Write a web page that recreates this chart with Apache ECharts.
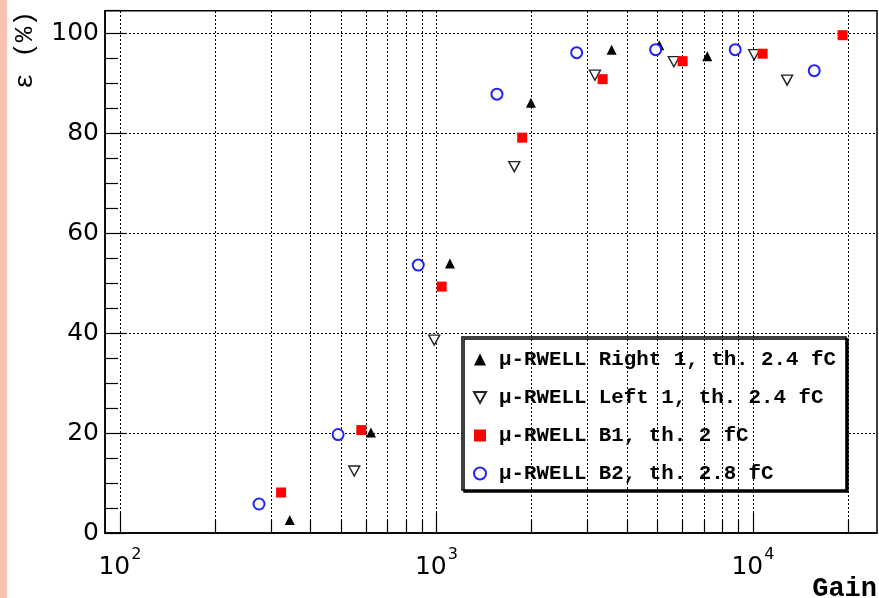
<!DOCTYPE html>
<html>
<head>
<meta charset="utf-8">
<script src="https://cdn.jsdelivr.net/npm/echarts@6/dist/echarts.min.js"></script>
<style>
  html, body { margin: 0; padding: 0; background: #fff; }
  #chart { width: 879px; height: 598px; }
</style>
</head>
<body>
<div id="chart"></div>
<script>
// gain values (x) and efficiency in % (y) for each detector
var right1Gain = [344, 621, 1103, 1989, 3577, 5058, 7172];
var right1Eff = [2.6, 20.1, 53.9, 86.1, 96.7, 97.6, 95.4];
var left1Gain = [550, 984, 1762, 3168, 5625, 10090, 12820];
var left1Eff = [12.4, 38.6, 73.3, 91.6, 94.3, 95.7, 90.6];
var b1Gain = [323, 579, 1039, 1866, 3350, 5995, 10730, 19200];
var b1Eff = [8.1, 20.6, 49.3, 79.1, 90.8, 94.4, 95.9, 99.6];
var b2Gain = [275, 489, 876, 1553, 2774, 4927, 8790, 15620];
var b2Eff = [5.8, 19.7, 53.6, 87.8, 96.1, 96.7, 96.7, 92.5];

var seriesNames = [
  'μ-RWELL Right 1, th. 2.4 fC',
  'μ-RWELL Left 1, th. 2.4 fC',
  'μ-RWELL B1, th. 2 fC',
  'μ-RWELL B2, th. 2.8 fC'
];

// axis ranges
var gainMin = 89.7, gainMax = 24660;
var effMin = 0, effMax = 104.5, effStep = 20;
var decades = [100, 1000, 10000];

function pairs(xs, ys) {
  return xs.map(function (x, i) { return [x, ys[i]]; });
}

// dotted vertical grid at 1..9 x 10^n, short ticks at the minor ones
var vGrid = [];
var minorTicks = [];
decades.forEach(function (d) {
  for (var k = 1; k <= 9; k++) {
    var v = k * d;
    if (v < gainMin || v > gainMax) continue;
    vGrid.push({ xAxis: v });
    if (k > 1) minorTicks.push([{ coord: [v, 0] }, { coord: [v, 2.6] }]);
  }
});

var chart = echarts.init(document.getElementById('chart'));

var option = {
  animation: false,
  backgroundColor: '#fff',
  graphic: [
    { type: 'rect', left: 0, top: 0, shape: { width: 7, height: 598 }, style: { fill: '#f9c2b1' } },
    {
      type: 'text', x: 25, y: 50, rotation: Math.PI / 2,
      style: {
        text: 'ε (%)', fontFamily: 'Liberation Mono', fontSize: 26,
        fill: '#000', align: 'center', verticalAlign: 'middle'
      }
    }
  ],
  grid: {
    left: 105, top: 10.7, right: 2, bottom: 65,
    outerBoundsMode: 'none',
    containLabel: false,
    show: true, borderColor: '#000', borderWidth: 1.5, backgroundColor: '#fff'
  },
  legend: {
    data: seriesNames,
    orient: 'vertical',
    left: 462, top: 337,
    padding: [12, 10, 6, 11],
    itemGap: 17,
    itemWidth: 12, itemHeight: 12,
    backgroundColor: '#fff',
    borderColor: '#000', borderWidth: 1.5,
    shadowColor: '#000', shadowOffsetX: 2, shadowOffsetY: 2, shadowBlur: 0,
    textStyle: {
      fontFamily: 'Liberation Mono', fontWeight: 'bold', fontSize: 20.8,
      lineHeight: 20, color: '#000', padding: [0, 0, 0, 8]
    }
  },
  xAxis: {
    type: 'log',
    logBase: 10,
    min: gainMin,
    max: gainMax,
    name: 'Gain',
    nameLocation: 'end',
    nameGap: 0,
    nameTextStyle: {
      fontFamily: 'Liberation Mono', fontWeight: 'bold', fontSize: 27, color: '#000',
      align: 'right', verticalAlign: 'top', padding: [43, 0, 0, 0]
    },
    axisLine: { lineStyle: { color: '#000', width: 1.5 } },
    axisTick: { inside: true, length: 20, lineStyle: { color: '#000', width: 1.2 } },
    splitLine: { show: false },
    axisLabel: {
      margin: 14,
      showMinLabel: false,
      showMaxLabel: false,
      formatter: function (v) {
        var e = Math.round(Math.log10(v));
        if (Math.abs(Math.log10(v) - e) > 1e-6) return '';
        return '{b|10}{s|' + e + '}';
      },
      rich: {
        b: { fontFamily: 'DejaVu Sans', fontSize: 25, color: '#000', verticalAlign: 'bottom' },
        s: { fontFamily: 'DejaVu Sans', fontSize: 16, color: '#000', verticalAlign: 'bottom', padding: [0, 0, 17, 1] }
      }
    }
  },
  yAxis: {
    type: 'value',
    min: effMin,
    max: effMax,
    interval: effStep,
    axisLine: { show: true, lineStyle: { color: '#000', width: 1.5 } },
    axisTick: { inside: true, length: 21, lineStyle: { color: '#000', width: 1.2 } },
    minorTick: { show: true, splitNumber: 4, length: 13, lineStyle: { color: '#000', width: 1.2 } },
    splitLine: { show: true, lineStyle: { color: '#000', width: 1, type: [2, 2] } },
    axisLabel: {
      margin: 6, showMaxLabel: false,
      fontFamily: 'DejaVu Sans', fontSize: 25, color: '#000'
    }
  },
  series: [
    {
      name: 'grid', type: 'scatter', data: [], z: 1, silent: true,
      markLine: {
        silent: true, symbol: ['none', 'none'], label: { show: false },
        lineStyle: { color: '#000', width: 1, type: [2, 2] },
        data: vGrid
      }
    },
    {
      name: 'ticks', type: 'scatter', data: [], z: 1, silent: true,
      markLine: {
        silent: true, symbol: ['none', 'none'], label: { show: false },
        lineStyle: { color: '#000', width: 1.2, type: 'solid' },
        data: minorTicks
      }
    },
    {
      name: seriesNames[0], type: 'scatter', data: pairs(right1Gain, right1Eff), z: 5,
      symbol: 'triangle', symbolSize: [10, 10],
      itemStyle: { color: '#000', opacity: 1 }
    },
    {
      name: seriesNames[1], type: 'scatter', data: pairs(left1Gain, left1Eff), z: 5,
      symbol: 'path://M0,0L10,0L5,9Z', symbolSize: [11, 10],
      itemStyle: { color: '#fff', borderColor: '#222', borderWidth: 1.4, opacity: 1 }
    },
    {
      name: seriesNames[2], type: 'scatter', data: pairs(b1Gain, b1Eff), z: 5,
      symbol: 'rect', symbolSize: 10,
      itemStyle: { color: '#ff0000', opacity: 1 }
    },
    {
      name: seriesNames[3], type: 'scatter', data: pairs(b2Gain, b2Eff), z: 5,
      symbol: 'emptyCircle', symbolSize: 11,
      itemStyle: { color: '#2222ff', borderWidth: 1.5, opacity: 1 }
    }
  ]
};

chart.setOption(option);
</script>
</body>
</html>
